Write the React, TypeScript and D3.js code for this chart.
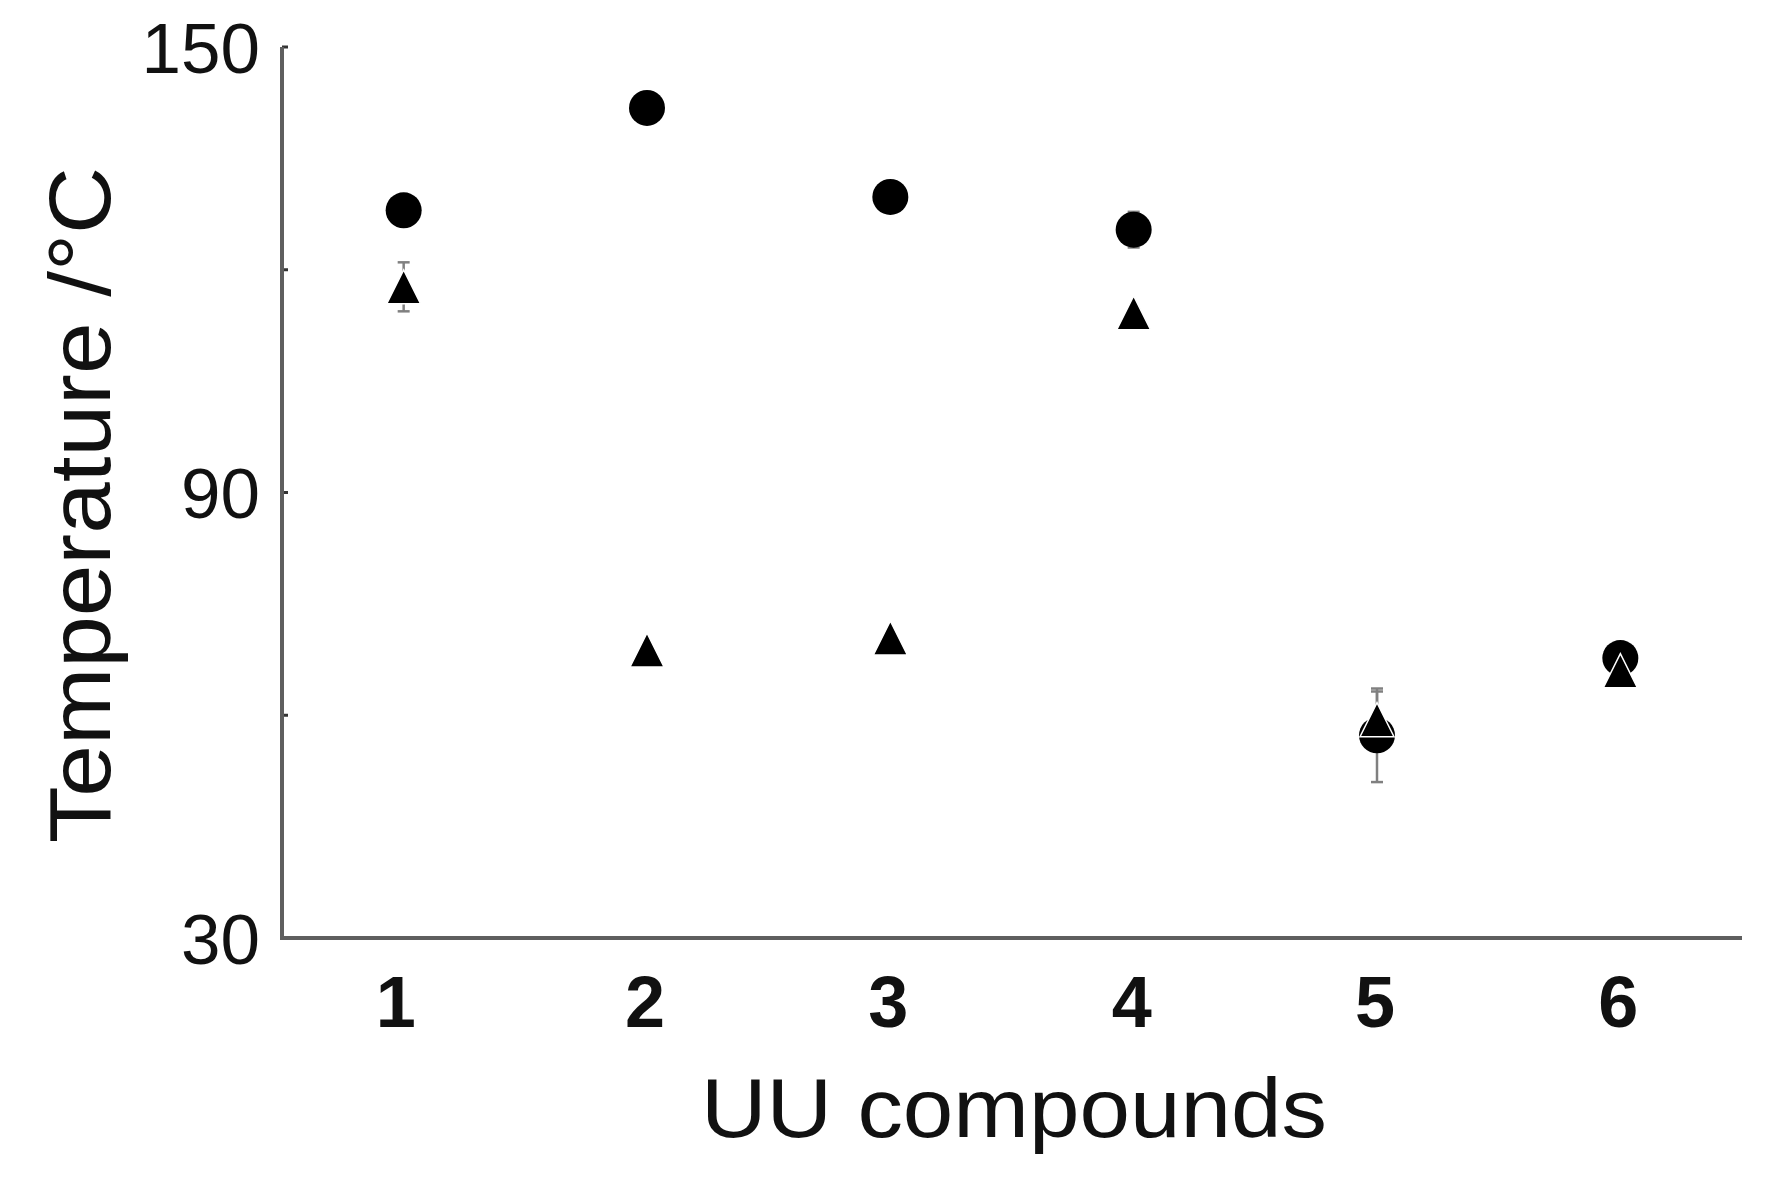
import React, { useEffect, useRef } from 'react';
import * as d3 from 'd3';

const compounds = [1, 2, 3, 4, 5, 6];
const circleValues = [128.0, 141.8, 129.8, 125.4, 57.3, 67.7];
const circleErrors = [0, 0, 0, 2.4, 6.3, 0];
const triangleValues = [117.7, 68.8, 70.4, 114.2, 59.4, 66.0];
const triangleErrors = [3.3, 0, 0, 0, 3.8, 0];
const yTickLabels = [150, 90, 30];
const yMinorTicks = [120, 60];

const WIDTH = 1765;
const HEIGHT = 1179;

const App = () => {
    const ref = useRef<SVGSVGElement>(null);

    useEffect(() => {
        const svg = d3.select(ref.current);
        svg.selectAll('*').remove();

        const x = d3.scaleLinear().domain([0.5, 6.5]).range([282, 1742]);
        const y = d3.scaleLinear().domain([30, 150]).range([938, 47]);

        const font = 'Liberation Sans, Arial, sans-serif';
        const axisColor = '#5f5f5f';

        // y axis ticks (small, pointing inward)
        svg.append('g')
            .selectAll('line')
            .data([...yTickLabels, ...yMinorTicks])
            .enter()
            .append('line')
            .attr('x1', x(0.5))
            .attr('x2', x(0.5) + 6)
            .attr('y1', d => y(d))
            .attr('y2', d => y(d))
            .attr('stroke', '#333')
            .attr('stroke-width', 3);

        // axis lines
        svg.append('line')
            .attr('x1', x(0.5)).attr('x2', x(0.5))
            .attr('y1', y(150)).attr('y2', y(30))
            .attr('stroke', axisColor).attr('stroke-width', 4);
        svg.append('line')
            .attr('x1', x(0.5) - 2).attr('x2', x(6.5))
            .attr('y1', y(30)).attr('y2', y(30))
            .attr('stroke', axisColor).attr('stroke-width', 4);

        svg.append('g')
            .selectAll('text')
            .data(yTickLabels)
            .enter()
            .append('text')
            .attr('x', x(0.5) - 22)
            .attr('y', d => y(d))
            .attr('dy', '0.36em')
            .attr('text-anchor', 'end')
            .attr('font-family', font)
            .attr('font-size', 71)
            .attr('fill', '#111')
            .text(d => d);

        svg.append('g')
            .selectAll('text')
            .data(compounds)
            .enter()
            .append('text')
            .attr('x', d => x(d) - (d === 1 ? 8 : 2))
            .attr('y', 1027)
            .attr('text-anchor', 'middle')
            .attr('font-family', font)
            .attr('font-weight', 'bold')
            .attr('font-size', 72)
            .attr('fill', '#111')
            .text(d => d);

        // axis titles
        svg.append('text')
            .attr('x', 1014)
            .attr('y', 1137)
            .attr('text-anchor', 'middle')
            .attr('font-family', font)
            .attr('font-size', 84)
            .attr('fill', '#111')
            .attr('textLength', 626)
            .attr('lengthAdjust', 'spacingAndGlyphs')
            .text('UU compounds');

        svg.append('text')
            .attr('transform', 'translate(110, 505) rotate(-90)')
            .attr('text-anchor', 'middle')
            .attr('font-family', font)
            .attr('font-size', 88)
            .attr('fill', '#111')
            .attr('textLength', 676)
            .attr('lengthAdjust', 'spacingAndGlyphs')
            .text('Temperature /°C');

        // error bars
        const errData = [
            ...compounds.map((c, i) => ({ c, v: circleValues[i], e: circleErrors[i] })),
            ...compounds.map((c, i) => ({ c, v: triangleValues[i], e: triangleErrors[i] })),
        ].filter(d => d.e > 0);

        const errG = svg.append('g').attr('stroke', '#808080').attr('stroke-width', 2.5);
        errG.selectAll('line.bar')
            .data(errData)
            .enter()
            .append('line')
            .classed('bar', true)
            .attr('x1', d => x(d.c)).attr('x2', d => x(d.c))
            .attr('y1', d => y(d.v + d.e)).attr('y2', d => y(d.v - d.e));
        errG.selectAll('line.capTop')
            .data(errData)
            .enter()
            .append('line')
            .classed('capTop', true)
            .attr('x1', d => x(d.c) - 6).attr('x2', d => x(d.c) + 6)
            .attr('y1', d => y(d.v + d.e)).attr('y2', d => y(d.v + d.e));
        errG.selectAll('line.capBottom')
            .data(errData)
            .enter()
            .append('line')
            .classed('capBottom', true)
            .attr('x1', d => x(d.c) - 6).attr('x2', d => x(d.c) + 6)
            .attr('y1', d => y(d.v - d.e)).attr('y2', d => y(d.v - d.e));

        // circles
        svg.append('g')
            .selectAll('circle')
            .data(compounds)
            .enter()
            .append('circle')
            .attr('cx', d => x(d))
            .attr('cy', (d, i) => y(circleValues[i]))
            .attr('r', 18)
            .attr('fill', '#000');

        // triangles
        const tw = 34;
        const th = 34;
        svg.append('g')
            .selectAll('path')
            .data(compounds)
            .enter()
            .append('path')
            .attr('d', (d, i) => {
                const cx = x(d);
                const cy = y(triangleValues[i]);
                return `M${cx},${cy - th / 2}L${cx + tw / 2},${cy + th / 2}L${cx - tw / 2},${cy + th / 2}Z`;
            })
            .attr('fill', '#000')
            .attr('stroke', '#fff')
            .attr('stroke-width', 1.5);
    }, []);

    return (
        <svg ref={ref} width={WIDTH} height={HEIGHT}
            style={{ position: 'absolute', left: 0, top: 0, background: '#fff' }}></svg>
    );
};

export default App;
